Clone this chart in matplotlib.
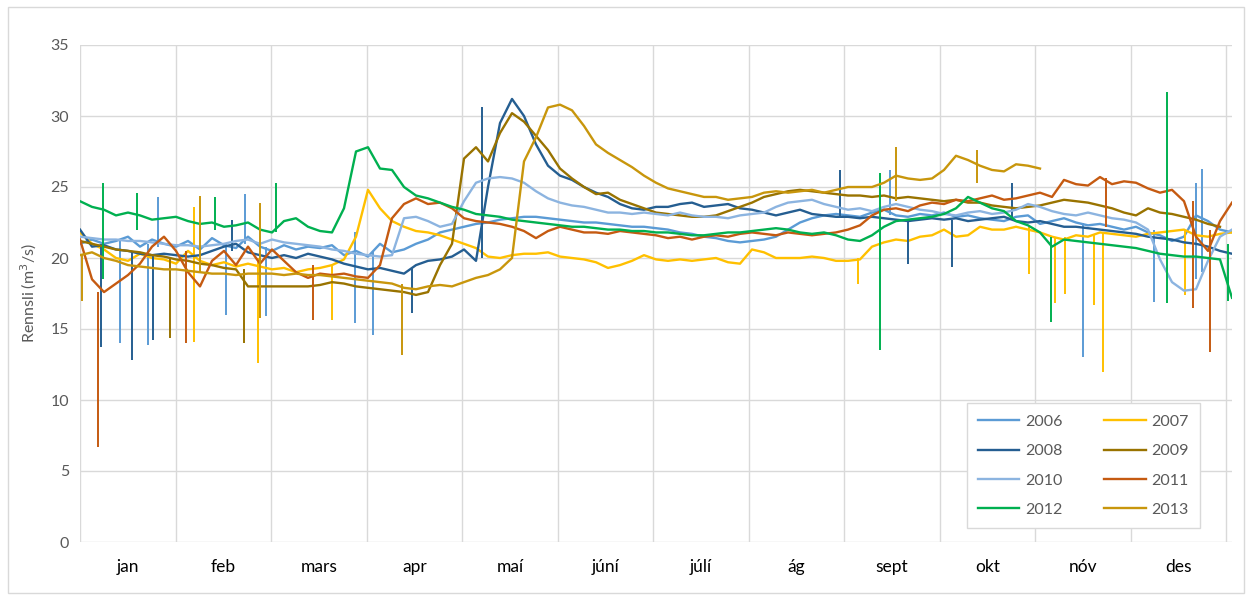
import numpy as np
import matplotlib.pyplot as plt
from matplotlib.patches import Rectangle

plt.rcParams['font.family'] = ['Lato', 'DejaVu Sans']

months = ['jan', 'feb', 'mars', 'apr', 'maí', 'júní', 'júlí', 'ág', 'sept', 'okt', 'nóv', 'des']
years = ['2006', '2007', '2008', '2009', '2010', '2011', '2012', '2013']
colors = ['#5B9BD5', '#FFC000', '#255E91', '#997300', '#8CB4E0', '#C55A11', '#00B050', '#C8960C']

# flow (m3/s), one reading every ~1/8 month from 1 jan
y2006 = [21.0, 21.3, 21.0, 21.2, 21.5, 20.8, 21.3, 21.0, 20.8, 21.2, 20.6, 21.4, 20.9, 20.7, 21.5, 20.8,
         20.5, 20.9, 20.6, 20.8, 20.7, 20.9, 20.2, 20.5, 20.1, 21.0, 20.4, 20.6, 21.0, 21.3, 21.8, 22.0,
         22.2, 22.4, 22.5, 22.7, 22.8, 22.9, 22.9, 22.8, 22.7, 22.6, 22.5, 22.5, 22.4, 22.3, 22.2, 22.2,
         22.1, 22.0, 21.8, 21.7, 21.5, 21.4, 21.2, 21.1, 21.2, 21.3, 21.5, 22.0, 22.5, 22.8, 23.0, 23.1,
         23.0, 22.9, 23.2, 23.4, 23.0, 22.9, 23.1, 23.0, 23.2, 22.9, 23.0, 22.8, 22.7, 22.6, 22.9, 23.0,
         22.4, 22.6, 22.8, 22.5, 22.3, 22.4, 22.2, 22.0, 22.2, 21.8, 21.6, 21.2, 21.5, 23.0, 22.6, 22.0, 21.8]
y2007 = [21.8, 21.0, 20.6, 20.0, 19.8, 20.3, 20.0, 19.9, 19.6, 20.5, 19.8, 19.5, 19.7, 19.4, 19.6, 19.4,
         19.2, 19.3, 19.0, 19.2, 19.3, 19.5, 19.9, 21.5, 24.8, 23.5, 22.6, 22.2, 21.9, 21.8, 21.6, 21.3,
         21.0, 20.7, 20.1, 20.0, 20.2, 20.3, 20.3, 20.4, 20.1, 20.0, 19.9, 19.7, 19.3, 19.5, 19.8, 20.2,
         19.9, 19.8, 19.9, 19.8, 19.9, 20.0, 19.7, 19.6, 20.6, 20.4, 20.0, 20.0, 20.0, 20.1, 20.0, 19.8,
         19.8, 19.9, 20.8, 21.1, 21.3, 21.2, 21.5, 21.6, 22.0, 21.5, 21.6, 22.2, 22.0, 22.0, 22.2, 22.0,
         21.8, 21.5, 21.3, 21.6, 21.5, 21.8, 21.7, 21.6, 21.5, 21.7, 21.8, 21.9, 22.0, 21.6, 21.5, 21.7, 21.8]
y2008 = [22.0, 20.8, 20.9, 20.6, 20.5, 20.3, 20.2, 20.3, 20.2, 20.1, 20.2, 20.5, 20.8, 21.0, 20.4, 20.2,
         20.0, 20.2, 20.0, 20.3, 20.1, 19.9, 19.6, 19.4, 19.2, 19.3, 19.1, 18.9, 19.5, 19.8, 19.9, 20.1,
         20.6, 19.8, 25.0, 29.5, 31.2, 30.0, 28.0, 26.5, 25.8, 25.5, 25.0, 24.6, 24.3, 23.8, 23.5, 23.4,
         23.6, 23.6, 23.8, 23.9, 23.6, 23.7, 23.8, 23.5, 23.4, 23.2, 23.0, 23.2, 23.4, 23.1, 23.0, 22.9,
         22.9, 22.8, 22.9, 22.8, 22.7, 22.6, 22.7, 22.8, 22.7, 22.8, 22.6, 22.7, 22.8, 22.9, 22.6, 22.5,
         22.6, 22.4, 22.2, 22.2, 22.1, 22.0, 21.9, 21.8, 21.7, 21.5, 21.4, 21.3, 21.1, 21.0, 20.8, 20.5, 20.3]
y2009 = [21.2, 21.0, 20.8, 20.6, 20.5, 20.4, 20.2, 20.1, 19.9, 19.8, 19.6, 19.5, 19.3, 19.2, 18.0, 18.0,
         18.0, 18.0, 18.0, 18.0, 18.1, 18.3, 18.2, 18.0, 17.9, 17.8, 17.7, 17.6, 17.4, 17.6, 19.5, 21.0,
         27.0, 27.8, 26.8, 28.8, 30.2, 29.6, 28.6, 27.6, 26.3, 25.6, 25.0, 24.5, 24.6, 24.1, 23.8, 23.5,
         23.2, 23.1, 23.0, 22.9, 22.9, 23.0, 23.3, 23.6, 23.9, 24.3, 24.5, 24.7, 24.8, 24.7, 24.6, 24.5,
         24.4, 24.4, 24.3, 24.4, 24.2, 24.3, 24.2, 24.1, 24.0, 24.1, 23.9, 23.9, 23.7, 23.6, 23.5, 23.6,
         23.7, 23.9, 24.1, 24.0, 23.9, 23.7, 23.5, 23.2, 23.0, 23.5, 23.2, 23.1, 22.9, 22.7, 22.4, 22.2]
y2010 = [21.5, 21.4, 21.3, 21.3, 21.2, 21.2, 21.1, 21.0, 20.9, 20.9, 20.8, 20.9, 21.0, 21.2, 21.3, 21.0,
         21.3, 21.1, 21.0, 20.9, 20.8, 20.6, 20.5, 20.3, 20.2, 20.1, 20.2, 22.8, 22.9, 22.6, 22.2, 22.4,
         24.0, 25.3, 25.6, 25.7, 25.6, 25.3, 24.7, 24.2, 23.9, 23.7, 23.6, 23.4, 23.2, 23.2, 23.1, 23.2,
         23.1, 23.0, 23.2, 23.0, 22.9, 22.9, 22.8, 23.0, 23.1, 23.2, 23.6, 23.9, 24.0, 24.1, 23.8, 23.6,
         23.4, 23.5, 23.3, 23.6, 23.8, 23.6, 23.4, 23.3, 23.1, 23.0, 23.2, 23.3, 23.1, 23.2, 23.4, 23.8,
         23.6, 23.3, 23.1, 23.0, 23.2, 23.0, 22.8, 22.7, 22.5, 22.0, 19.9, 18.3, 17.7, 17.8, 19.8, 21.5, 22.0]
y2011 = [21.3, 18.5, 17.6, 18.2, 18.8, 19.6, 20.8, 21.5, 20.5, 19.0, 18.0, 19.8, 20.5, 19.5, 20.8, 19.6,
         20.6, 19.8, 19.0, 18.6, 18.9, 18.8, 18.9, 18.7, 18.6, 19.5, 22.8, 23.8, 24.2, 23.8, 23.9, 23.5,
         22.8, 22.6, 22.5, 22.4, 22.2, 21.9, 21.4, 21.9, 22.2, 22.0, 21.8, 21.8, 21.7, 21.9, 21.8, 21.7,
         21.6, 21.4, 21.5, 21.3, 21.5, 21.6, 21.5, 21.7, 21.8, 21.7, 21.6, 21.8, 21.7, 21.6, 21.7, 21.8,
         22.0, 22.3, 23.0, 23.4, 23.5, 23.3, 23.7, 23.9, 23.8, 24.1, 24.0, 24.2, 24.4, 24.1, 24.2, 24.4,
         24.6, 24.3, 25.5, 25.2, 25.1, 25.7, 25.2, 25.4, 25.3, 24.9, 24.6, 24.8, 24.0, 21.5, 20.5, 22.6, 23.9]
y2012 = [24.0, 23.6, 23.4, 23.0, 23.2, 23.0, 22.7, 22.8, 22.9, 22.6, 22.4, 22.5, 22.2, 22.3, 22.5, 22.0,
         21.8, 22.6, 22.8, 22.2, 21.9, 21.8, 23.5, 27.5, 27.8, 26.3, 26.2, 25.0, 24.4, 24.2, 23.9, 23.6,
         23.4, 23.1, 23.0, 22.9, 22.7, 22.6, 22.5, 22.4, 22.3, 22.2, 22.2, 22.1, 22.0, 22.0, 21.9, 21.9,
         21.8, 21.8, 21.7, 21.6, 21.6, 21.7, 21.8, 21.8, 21.9, 22.0, 22.1, 22.0, 21.8, 21.7, 21.8, 21.6,
         21.3, 21.2, 21.6, 22.2, 22.6, 22.7, 22.8, 22.9, 23.1, 23.5, 24.3, 23.9, 23.5, 23.3, 22.6, 22.3,
         21.8, 20.8, 21.3, 21.2, 21.1, 21.0, 20.9, 20.8, 20.7, 20.5, 20.3, 20.2, 20.1, 20.1, 20.0, 19.9, 17.2]
y2013 = [20.2, 20.4, 20.0, 19.8, 19.5, 19.4, 19.3, 19.2, 19.2, 19.1, 19.0, 18.9, 18.9, 18.8, 18.9, 18.9,
         18.9, 18.8, 18.9, 18.8, 18.8, 18.7, 18.6, 18.5, 18.4, 18.3, 18.2, 17.9, 17.8, 18.0, 18.1, 18.0,
         18.3, 18.6, 18.8, 19.2, 20.0, 26.8, 28.5, 30.6, 30.8, 30.4, 29.3, 28.0, 27.4, 26.9, 26.4, 25.8,
         25.3, 24.9, 24.7, 24.5, 24.3, 24.3, 24.1, 24.2, 24.3, 24.6, 24.7, 24.6, 24.7, 24.8, 24.6, 24.8,
         25.0, 25.0, 25.0, 25.3, 25.8, 25.6, 25.5, 25.6, 26.2, 27.2, 26.9, 26.5, 26.2, 26.1, 26.6, 26.5, 26.3]
series = [y2006, y2007, y2008, y2009, y2010, y2011, y2012, y2013]

# short spikes in the record: (month position, low, high)
spikes2006 = [(0.42, 14.0, 21.2), (0.71, 13.9, 21.0), (0.82, 20.8, 24.3), (1.53, 16.0, 21.0), (1.73, 21.0, 24.5),
              (1.95, 15.9, 20.8), (2.88, 15.4, 21.8), (3.07, 14.6, 20.5), (8.48, 23.0, 26.2), (10.50, 13.0, 22.5),
              (11.24, 16.9, 22.0), (11.68, 18.5, 25.3), (11.75, 19.0, 26.3)]
spikes2007 = [(1.19, 14.1, 23.6), (1.86, 12.6, 20.0), (2.64, 15.6, 19.5), (8.14, 18.2, 20.0), (9.93, 18.9, 22.2),
              (10.21, 16.8, 21.5), (10.31, 17.5, 21.5), (10.62, 16.7, 21.6), (10.71, 12.0, 21.8), (11.57, 17.4, 22.0)]
spikes2008 = [(0.22, 13.7, 21.0), (0.54, 12.8, 20.5), (0.76, 14.2, 20.3), (1.59, 20.5, 22.7), (3.48, 16.1, 19.3),
              (4.21, 20.0, 30.6), (7.96, 22.9, 26.2), (8.67, 19.6, 22.7), (9.13, 19.4, 22.7), (9.76, 22.7, 25.3)]
spikes2009 = [(0.94, 14.4, 20.1), (1.72, 14.0, 19.2)]
spikes2010 = []
spikes2011 = [(0.19, 6.7, 17.6), (1.11, 14.0, 20.5), (2.44, 15.6, 19.5), (10.74, 22.2, 25.6), (11.65, 16.5, 24.0),
              (11.83, 13.4, 22.0)]
spikes2012 = [(0.24, 18.5, 25.3), (0.60, 22.0, 24.6), (1.41, 22.0, 24.3), (2.05, 21.8, 25.3), (8.38, 13.5, 26.0),
              (10.16, 15.5, 21.5), (11.38, 16.8, 31.7), (12.02, 17.0, 21.0)]
spikes2013 = [(0.02, 17.0, 20.2), (1.26, 19.0, 24.4), (1.88, 15.8, 23.9), (3.37, 13.2, 18.2), (8.54, 24.0, 27.8),
              (9.39, 25.3, 27.6)]
spikes = [spikes2006, spikes2007, spikes2008, spikes2009, spikes2010, spikes2011, spikes2012, spikes2013]

step = 12.06 / 96

fig = plt.figure(figsize=(12.52, 6.0), dpi=100)
ax = fig.add_axes([80 / 1252, 1 - 542 / 600, 1152 / 1252, 497 / 600])

lines = []
for i, yr in enumerate(years):
    vals = series[i]
    x = np.arange(len(vals)) * step
    ln, = ax.plot(x, vals, color=colors[i], lw=1.7, label=yr, zorder=3 + i)
    lines.append(ln)
    if spikes[i]:
        sx, lo, hi = zip(*spikes[i])
        ax.vlines(sx, lo, hi, color=colors[i], lw=1.4, zorder=3 + i)

ax.set_xlim(0, 12.06)
ax.set_ylim(0, 35)
ax.set_yticks(range(0, 36, 5))
ax.set_xticks(range(0, 13))
ax.set_xticklabels([])
ax.set_xticks(np.arange(12) + 0.5, minor=True)
ax.set_xticklabels(months, minor=True)
ax.tick_params(axis='x', which='both', length=0, pad=12, labelsize=12.5, labelcolor='#000000')
ax.tick_params(axis='y', length=0, pad=8, labelsize=11.5, labelcolor='#595959')
ax.grid(True, which='major', color='#D9D9D9', lw=1.0, zorder=0)
for s in ax.spines.values():
    s.set_visible(False)

ax.set_ylabel('Rennsli (m$^3$/s)', fontsize=11.5, color='#595959', labelpad=8)

order = [0, 2, 4, 6, 1, 3, 5, 7]
leg = ax.legend([lines[k] for k in order], [years[k] for k in order], ncol=2,
                loc='lower right', bbox_to_anchor=(0.979, 0.012), fontsize=11.5,
                frameon=True, fancybox=False, edgecolor='#D9D9D9', framealpha=1,
                handlelength=2.6, handletextpad=0.35, columnspacing=2.6,
                labelspacing=0.95, borderpad=0.7)
for t in leg.get_texts():
    t.set_color('#595959')
leg.set_zorder(20)

fig.patches.append(Rectangle((0.006, 0.012), 0.988, 0.976, transform=fig.transFigure,
                             fill=False, edgecolor='#D9D9D9', lw=1.0))

fig.savefig('out.png', dpi=100)
